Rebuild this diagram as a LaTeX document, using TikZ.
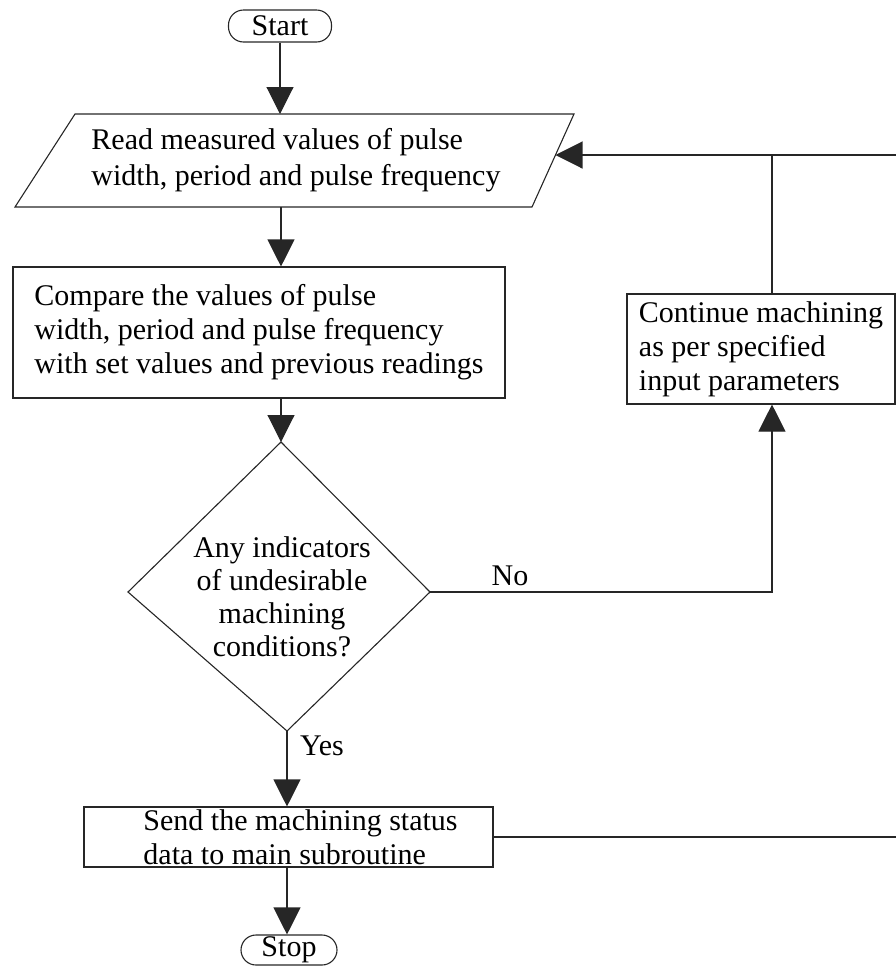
\documentclass[tikz,border=0pt]{standalone}
\usepackage{fontspec}
\setmainfont{Liberation Serif}
\usetikzlibrary{arrows.meta}
\begin{document}
\begin{tikzpicture}[x=1pt,y=-1pt,
  every node/.style={font=\fontsize{30}{34}\selectfont},
  line/.style={line width=1.1pt, draw=black!85},
  arr/.style={line, -{Triangle[width=27pt,length=27pt]}},
  box/.style={draw=black!85, line width=1.1pt, rectangle, inner sep=0pt, align=left},
  term/.style={draw=black!85, line width=1.1pt, rectangle, rounded corners=15pt, inner sep=0pt},
  lbl/.style={inner sep=0pt}]
\useasboundingbox (0,0) rectangle (896,967);
% terminals
\node[term, minimum width=103pt, minimum height=32pt] (start) at (280,26) {Start};
\node[term, minimum width=96pt, minimum height=30pt] (stop) at (289,950) {Stop};
% parallelogram
\coordinate (pTL) at (75,114);
\coordinate (pTR) at (574,114);
\coordinate (pBR) at (532,207);
\coordinate (pBL) at (15,207);
\draw[line] (pTL) -- (pTR) -- (pBR) -- (pBL) -- cycle;
\node[lbl, align=left, font=\fontsize{30}{36}\selectfont] (read) at (296,160) {Read measured values of pulse\\width, period and pulse frequency};
\coordinate (readtop) at (280,114);
\coordinate (readbot) at (281,207);
\coordinate (readR) at (555.5,155);
% compare box
\node[box, minimum width=492pt, minimum height=131pt] (compare) at (259,332.5)
  {Compare the values of pulse\\width, period and pulse frequency\\with set values and previous readings};
% diamond
\coordinate (dtop) at (281,442);
\coordinate (dright) at (430,592);
\coordinate (dbot) at (287,731);
\coordinate (dleft) at (128,592);
\draw[line] (dtop) -- (dright) -- (dbot) -- (dleft) -- cycle;
\node[lbl, align=center, font=\fontsize{30}{33}\selectfont] (decide) at (282,597) {Any indicators\\of undesirable\\machining\\conditions?};
% continue box
\node[box, minimum width=268pt, minimum height=110pt] (cont) at (761,349)
  {Continue machining\\as per specified\\input parameters};
% send box
\node[box, minimum width=409pt, minimum height=60pt] (send) at (288.5,837)
  {\hspace*{24pt}Send the machining status\\\hspace*{24pt}data to main subroutine};
% labels
\node[lbl] (no) at (510,576) {No};
\node[lbl] (yes) at (322,746) {Yes};
% helper coordinates
\coordinate (noturn) at (772,592);
\coordinate (loopjoin) at (772,155);
\coordinate (rightin) at (896,155);
\coordinate (sendout) at (896,837);
% connectors
\draw[arr] (start.south -| readtop) -- (readtop);
\draw[arr] (readbot) -- (readbot |- compare.north);
\draw[arr] (compare.south -| dtop) -- (dtop);
\draw[arr] (dright) -- (noturn) -- (noturn |- cont.south);
\draw[line] (noturn |- cont.north) -- (loopjoin);
\draw[arr] (rightin) -- (readR);
\draw[arr] (dbot) -- (dbot |- send.north);
\draw[line] (send.east) -- (sendout);
\draw[arr] (send.south -| dbot) -- (stop.north -| dbot);
\end{tikzpicture}
\end{document}
